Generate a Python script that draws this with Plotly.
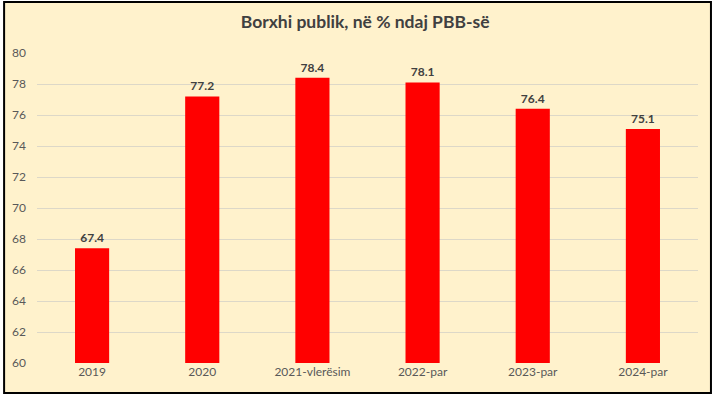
import plotly.graph_objects as go

categories = ["2019", "2020", "2021-vlerësim", "2022-par", "2023-par", "2024-par"]
values = [67.4, 77.2, 78.4, 78.1, 76.4, 75.1]
labels = ["67.4", "77.2", "78.4", "78.1", "76.4", "75.1"]
y_ticks = list(range(60, 81, 2))

W, H = 716, 397
L, R, T, B = 35, 18, 53, 34
pw, ph = W - L - R, H - T - B

def px_to_paper_x(px):
    return (px - L) / pw

def px_to_paper_y(py):
    return (H - B - py) / ph

fig = go.Figure(go.Bar(
    x=categories, y=values,
    marker=dict(color="#FF0000", line=dict(width=0)),
    text=labels, textposition="outside",
    textfont=dict(family="Lato", size=12, color="#404040", weight="bold"),
    cliponaxis=False,
))

fig.update_layout(
    width=W, height=H,
    margin=dict(l=L, r=R, t=T, b=B),
    paper_bgcolor="white",
    plot_bgcolor="rgba(0,0,0,0)",
    bargap=0.69,
    showlegend=False,
    title=dict(text="<b>Borxhi publik, në % ndaj PBB-së</b>", x=0.51, xanchor="center",
               y=1 - 22 / H, yanchor="middle",
               font=dict(family="Lato", size=17.5, color="#404040")),
    xaxis=dict(showgrid=False, showline=False, ticks="",
               tickfont=dict(family="Lato", size=12, color="#595959")),
    yaxis=dict(range=[60, 80], tickvals=y_ticks, showgrid=True, gridcolor="#DDD8C8",
               gridwidth=1, zeroline=False, showline=False, ticks="",
               tickfont=dict(family="Lato", size=12, color="#595959"), ticklabelstandoff=10),
    shapes=[dict(type="rect", xref="paper", yref="paper",
                 x0=px_to_paper_x(2), x1=px_to_paper_x(711),
                 y0=px_to_paper_y(393), y1=px_to_paper_y(2),
                 fillcolor="#FFF2CC", line=dict(color="#000000", width=2), layer="below")],
)

fig.write_html("out.html", config={"displayModeBar": False},
               post_script="document.body.style.margin='0';document.body.style.overflow='hidden';")
